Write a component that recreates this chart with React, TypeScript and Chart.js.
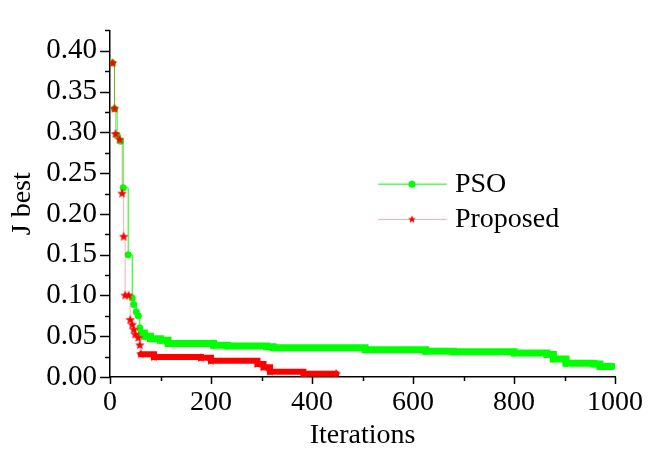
import React, { useEffect, useRef } from 'react';
import { Chart, registerables } from 'chart.js';

Chart.register(...registerables);

// Iteration at which a new best value appears, and that value
const psoIter = [5, 9, 14, 21, 26, 36, 44, 47, 52, 56, 59, 62, 68, 80, 100, 115, 205, 232, 310, 323, 505, 625, 680, 800, 865, 878, 903, 958, 970, 995];
const psoValue = [0.385, 0.329, 0.296, 0.289, 0.232, 0.150, 0.097, 0.089, 0.080, 0.075, 0.060, 0.054, 0.050, 0.047, 0.045, 0.041, 0.039, 0.038, 0.037, 0.036, 0.0335, 0.0315, 0.031, 0.0295, 0.0276, 0.022, 0.017, 0.016, 0.013, 0.013];

const proposedIter = [5, 9, 11, 19, 24, 27, 30, 37, 40, 44, 47, 50, 56, 59, 61, 87, 180, 200, 292, 304, 317, 383, 448];
const proposedValue = [0.385, 0.329, 0.298, 0.291, 0.225, 0.172, 0.100, 0.100, 0.070, 0.064, 0.058, 0.052, 0.048, 0.039, 0.028, 0.0245, 0.0235, 0.020, 0.016, 0.012, 0.0065, 0.004, 0.004];

const seriesNames = ['PSO', 'Proposed'];
const yTickLabels = ['0.00', '0.05', '0.10', '0.15', '0.20', '0.25', '0.30', '0.35', '0.40'];
const xTickLabels = ['0', '200', '400', '600', '800', '1000'];

const FONT = '"Liberation Serif", "Times New Roman", serif';
const GREEN = '#00ff00';
const RED = '#ff0000';
const RED_THIN = 'rgba(255, 70, 70, 0.45)';

function makeStar(r: number, color: string): HTMLCanvasElement {
  const c = document.createElement('canvas');
  const s = Math.ceil(r * 2) + 2;
  c.width = s;
  c.height = s;
  const ctx = c.getContext('2d')!;
  ctx.beginPath();
  for (let i = 0; i < 10; i++) {
    const a = -Math.PI / 2 + (i * Math.PI) / 5;
    const rr = i % 2 === 0 ? r : r * 0.45;
    ctx.lineTo(s / 2 + rr * Math.cos(a), s / 2 + rr * Math.sin(a));
  }
  ctx.closePath();
  ctx.fillStyle = color;
  ctx.fill();
  return c;
}

export default function App() {
  const ref = useRef<HTMLCanvasElement>(null);

  useEffect(() => {
    const star = makeStar(5, RED);
    const legendStar = makeStar(4, RED);

    const tickPlugin = {
      id: 'manualTicks',
      afterDraw(chart: any) {
        const { ctx, chartArea } = chart;
        const xs = chart.scales.x;
        const ys = chart.scales.y;
        ctx.save();
        ctx.strokeStyle = '#000';
        ctx.lineWidth = 1.5;
        ys.ticks.forEach((t: any) => {
          const v = t.value;
          const major = Math.abs(v / 0.05 - Math.round(v / 0.05)) < 1e-6;
          const py = Math.round(ys.getPixelForValue(v)) + 0.5;
          ctx.beginPath();
          ctx.moveTo(chartArea.left, py);
          ctx.lineTo(chartArea.left - (major ? 10 : 5), py);
          ctx.stroke();
        });
        xs.ticks.forEach((t: any) => {
          const v = t.value;
          const major = v % 200 === 0;
          const px = Math.round(xs.getPixelForValue(v)) + 0.5;
          ctx.beginPath();
          ctx.moveTo(px, chartArea.bottom);
          ctx.lineTo(px, chartArea.bottom + (major ? 7 : 4));
          ctx.stroke();
        });
        ctx.restore();
      },
    };

    const legendPlugin = {
      id: 'manualLegend',
      afterDraw(chart: any) {
        const { ctx, chartArea: a } = chart;
        const w = a.right - a.left;
        const h = a.bottom - a.top;
        const x0 = a.left + w * 0.531;
        const x1 = a.left + w * 0.667;
        const xm = a.left + w * 0.598;
        const xt = a.left + w * 0.683;
        const rows = [a.top + h * 0.4436, a.top + h * 0.5455];
        ctx.save();
        // PSO
        ctx.strokeStyle = GREEN;
        ctx.lineWidth = 1;
        ctx.beginPath();
        ctx.moveTo(x0, rows[0]);
        ctx.lineTo(x1, rows[0]);
        ctx.stroke();
        ctx.fillStyle = GREEN;
        ctx.beginPath();
        ctx.arc(xm, rows[0], 3.5, 0, Math.PI * 2);
        ctx.fill();
        // Proposed
        ctx.strokeStyle = RED_THIN;
        ctx.beginPath();
        ctx.moveTo(x0, rows[1]);
        ctx.lineTo(x1, rows[1]);
        ctx.stroke();
        ctx.drawImage(legendStar, xm - legendStar.width / 2, rows[1] - legendStar.height / 2);
        ctx.fillStyle = '#000';
        ctx.font = `28px ${FONT}`;
        ctx.textBaseline = 'middle';
        ctx.textAlign = 'left';
        ctx.fillText(seriesNames[0], xt, rows[0]);
        ctx.fillText(seriesNames[1], xt, rows[1]);
        ctx.restore();
      },
    };

    const chart = new Chart(ref.current!, {
      type: 'line',
      data: {
        datasets: [
          {
            label: seriesNames[0],
            data: psoIter.map((x, i) => ({ x, y: psoValue[i] })),
            borderColor: GREEN,
            backgroundColor: GREEN,
            borderWidth: 1,
            stepped: true,
            pointRadius: 3.5,
            pointStyle: 'circle',
            pointBorderWidth: 0,
            pointBackgroundColor: GREEN,
            borderCapStyle: 'round',
            order: 2,
            segment: {
              borderWidth: (c: any) => (c.p0.parsed.x >= 60 ? 7 : 1),
            },
          } as any,
          {
            label: seriesNames[1],
            data: proposedIter.map((x, i) => ({ x, y: proposedValue[i] })),
            borderColor: RED_THIN,
            backgroundColor: RED,
            borderWidth: 1,
            stepped: true,
            pointRadius: 5,
            pointStyle: star,
            borderCapStyle: 'round',
            order: 1,
            segment: {
              borderWidth: (c: any) => (c.p0.parsed.x >= 60 ? 6 : 1),
              borderColor: (c: any) => (c.p0.parsed.x >= 60 ? RED : RED_THIN),
            },
          } as any,
        ],
      },
      options: {
        animation: false,
        responsive: false,
        devicePixelRatio: 1,
        layout: { padding: { left: 0, top: 8, right: 49, bottom: 0 } },
        plugins: {
          legend: { display: false },
          tooltip: { enabled: false },
        },
        scales: {
          x: {
            type: 'linear',
            min: 0,
            max: 1000,
            grid: { display: false, drawTicks: false },
            border: { display: true, color: '#000', width: 1.5 },
            ticks: {
              stepSize: 100,
              autoSkip: false,
              maxRotation: 0,
              padding: 9,
              color: '#000',
              font: { family: FONT, size: 28 },
              callback: (v: any) => {
                const s = String(Math.round(Number(v)));
                return xTickLabels.includes(s) ? s : '';
              },
            },
            title: {
              display: true,
              text: 'Iterations',
              color: '#000',
              font: { family: FONT, size: 28 },
              padding: { top: 0, bottom: 1 },
            },
            afterFit: (s: any) => {
              s.height = 76;
            },
          },
          y: {
            type: 'linear',
            min: 0,
            max: 0.425,
            grid: { display: false, drawTicks: false },
            border: { display: true, color: '#000', width: 1.5 },
            ticks: {
              stepSize: 0.025,
              autoSkip: false,
              padding: 13,
              color: '#000',
              font: { family: FONT, size: 29 },
              callback: (v: any) => {
                const s = Number(v).toFixed(2);
                const n = Number(v);
                const major = Math.abs(n / 0.05 - Math.round(n / 0.05)) < 1e-6;
                return major && yTickLabels.includes(s) ? s : '';
              },
            },
            title: {
              display: true,
              text: 'J best',
              color: '#000',
              font: { family: FONT, size: 28 },
              padding: { top: 6, bottom: 0 },
            },
            afterFit: (s: any) => {
              s.width = 110;
            },
          },
        },
      } as any,
      plugins: [tickPlugin, legendPlugin],
    });
    return () => chart.destroy();
  }, []);

  return (
    <div style={{ position: 'fixed', left: 0, top: 0, width: 664, height: 453, background: '#fff' }}>
      <canvas ref={ref} width={664} height={453} style={{ display: 'block', width: 664, height: 453 }} />
    </div>
  );
}
